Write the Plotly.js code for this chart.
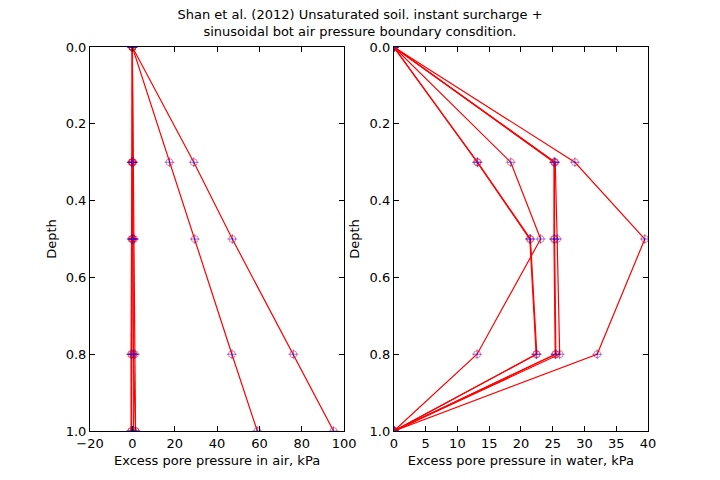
<!DOCTYPE html>
<html>
<head>
<meta charset="utf-8">
<script src="https://cdn.plot.ly/plotly-3.0.1.min.js"></script>
<style>html,body{margin:0;padding:0;background:#fff;}#chart{width:720px;height:480px;}</style>
</head>
<body>
<div id="chart"></div>
<script>
// Depths (shared by every profile)
const depth = [0.0, 0.3, 0.5, 0.8, 1.0];

// Excess pore pressure in air, kPa (one profile per time)
const air1 = [0, -0.2, -0.1, -0.3, -0.5];
const air2 = [0, 0.1, 0.3, 0.4, 0.5];
const air3 = [0, -0.3, -0.4, -0.6, -0.5];
const air4 = [0, 0.4, 0.8, 1.2, 1.5];
const air5 = [0, 0.0, 0.2, 0.5, 1.5];
const air6 = [0, 17.5, 29.5, 47.0, 59.0];
const air7 = [0, 29.0, 47.2, 76.0, 95.0];

// Excess pore pressure in water, kPa (one profile per time)
const water1 = [0, 13.1, 21.4, 22.4, 0];
const water2 = [0, 13.2, 21.5, 22.5, 0];
const water3 = [0, 18.4, 23.1, 13.1, 0];
const water4 = [0, 25.2, 25.2, 25.4, 0];
const water5 = [0, 25.3, 25.3, 25.5, 0];
const water6 = [0, 25.4, 25.7, 26.1, 0];
const water7 = [0, 28.5, 39.5, 32.0, 0];

// Tick values
const airTicks = [-20, 0, 20, 40, 60, 80, 100];
const waterTicks = [0, 5, 10, 15, 20, 25, 30, 35, 40];
const depthTicks = [0.0, 0.2, 0.4, 0.6, 0.8, 1.0];

const airProfiles = [air1, air2, air3, air4, air5, air6, air7];
const waterProfiles = [water1, water2, water3, water4, water5, water6, water7];

const traces = [];
function addProfile(vals, xa, ya) {
  traces.push({
    x: vals, y: depth, xaxis: xa, yaxis: ya, type: 'scatter', mode: 'lines+markers',
    line: {color: 'red', width: 1.2},
    marker: {symbol: 'circle-open', size: 7, color: 'rgba(255,0,0,0.5)', line: {width: 1, color: 'rgba(255,0,0,0.5)'}},
    showlegend: false, hoverinfo: 'skip'
  });
  traces.push({
    x: vals, y: depth, xaxis: xa, yaxis: ya, type: 'scatter', mode: 'markers',
    marker: {symbol: 'cross-thin-open', size: 7, color: 'rgba(0,0,255,0.5)', line: {width: 1, color: 'rgba(0,0,255,0.5)'}},
    showlegend: false, hoverinfo: 'skip'
  });
}
airProfiles.forEach(p => addProfile(p, 'x', 'y'));
waterProfiles.forEach(p => addProfile(p, 'x2', 'y2'));

const font = {family: 'DejaVu Sans', size: 13, color: 'black'};
function axisBase() {
  return {
    showline: true, mirror: 'ticks', linecolor: 'black', linewidth: 1,
    ticks: 'inside', ticklen: 5, tickcolor: 'black', tickwidth: 1,
    showgrid: false, zeroline: false, tickfont: font
  };
}

const layout = {
  width: 720, height: 480,
  margin: {l: 0, r: 0, t: 0, b: 0},
  paper_bgcolor: 'white', plot_bgcolor: 'white',
  font: font,
  title: {text: 'Shan et al. (2012) Unsaturated soil. instant surcharge +<br>sinusoidal bot air pressure boundary consdition.',
          x: 0.5, xanchor: 'center', yref: 'container', y: 0.961, yanchor: 'middle',
          font: {family: 'DejaVu Sans', size: 13, color: 'black'}},
  xaxis: Object.assign(axisBase(), {domain: [0.125, 0.478], range: [-20, 100], tickvals: airTicks, anchor: 'y',
    title: {text: 'Excess pore pressure in air, kPa', font: font, standoff: 6}}),
  yaxis: Object.assign(axisBase(), {domain: [0.102, 0.902], range: [1.0, 0.0], tickvals: depthTicks, tickformat: '.1f', anchor: 'x',
    title: {text: 'Depth', font: font, standoff: 6}}),
  xaxis2: Object.assign(axisBase(), {domain: [0.547, 0.9], range: [0, 40], tickvals: waterTicks, anchor: 'y2',
    title: {text: 'Excess pore pressure in water, kPa', font: font, standoff: 6}}),
  yaxis2: Object.assign(axisBase(), {domain: [0.102, 0.902], range: [1.0, 0.0], tickvals: depthTicks, tickformat: '.1f', anchor: 'x2',
    title: {text: 'Depth', font: font, standoff: 6}})
};

Plotly.newPlot('chart', traces, layout, {displayModeBar: false, staticPlot: true});
</script>
</body>
</html>
